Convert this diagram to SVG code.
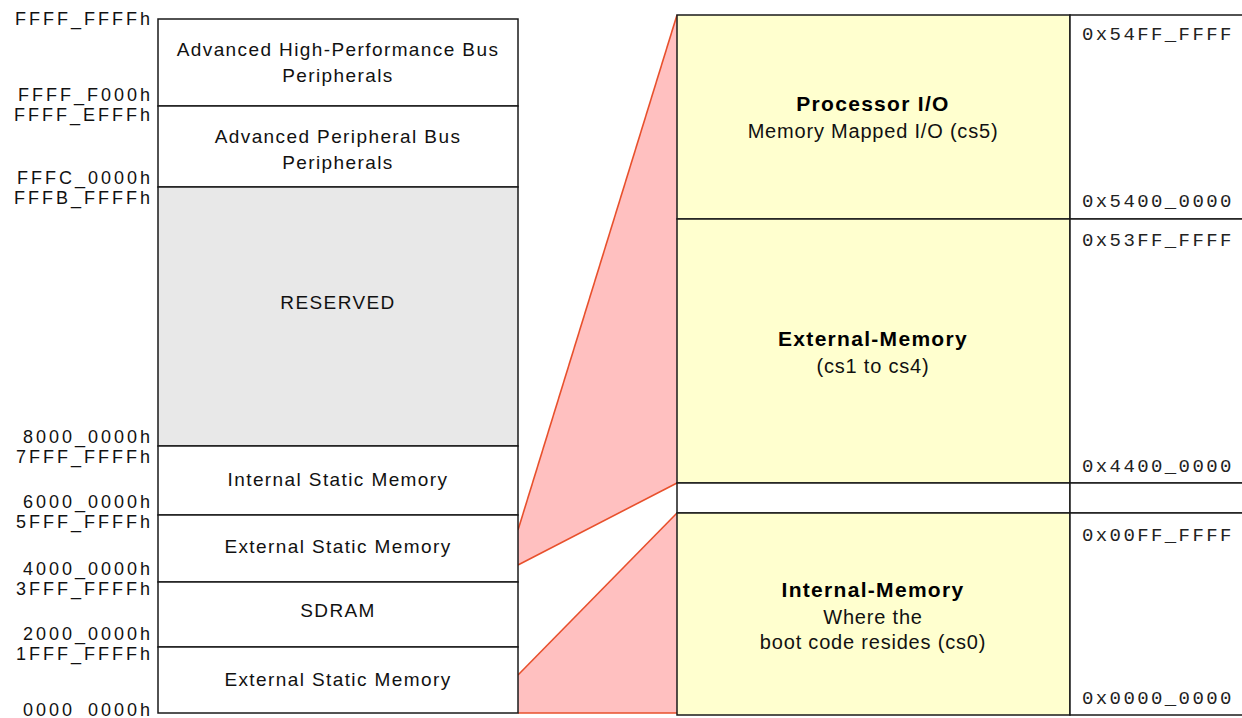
<svg xmlns="http://www.w3.org/2000/svg" width="1242" height="718" viewBox="0 0 1242 718">
<style>
.bx{stroke:#1a1a1a;stroke-width:1.5;fill:#ffffff}
.res{fill:#e8e8e8}
.yl{fill:#ffffcf}
.adr{font-family:"Liberation Sans",Arial,sans-serif;font-size:18px;letter-spacing:3px;fill:#111;text-anchor:end}
.lbl{font-family:"Liberation Sans",Arial,sans-serif;font-size:19px;letter-spacing:1.4px;fill:#111;text-anchor:middle}
.tt{font-family:"Liberation Sans",Arial,sans-serif;font-size:21px;font-weight:bold;letter-spacing:1.3px;fill:#000;text-anchor:middle}
.st{font-family:"Liberation Sans",Arial,sans-serif;font-size:20px;letter-spacing:0.8px;fill:#111;text-anchor:middle}
.hx{font-family:"Liberation Mono","Courier New",monospace;font-size:19px;letter-spacing:2.4px;fill:#222}
.fan{fill:#ffc0c0;stroke:none}
.edge{stroke:#e8502c;stroke-width:1.6;fill:none}
</style>
<rect x="0" y="0" width="1242" height="718" fill="#ffffff"/>

<g id="connectors">
  <polygon class="fan" points="518,530 677,15 677,483 518,565"/>
  <polygon class="fan" points="518,675 677,513 677,713 518,713"/>
  <line class="edge" x1="518" y1="530" x2="677" y2="15"/>
  <line class="edge" x1="518" y1="565" x2="677" y2="483"/>
  <line class="edge" x1="518" y1="675" x2="677" y2="513"/>
  <line class="edge" x1="518" y1="713" x2="677" y2="713"/>
</g>

<g id="left-addresses">
  <text class="adr" x="153" y="25">FFFF_FFFFh</text>
  <text class="adr" x="153" y="101">FFFF_F000h</text>
  <text class="adr" x="153" y="121">FFFF_EFFFh</text>
  <text class="adr" x="153" y="184">FFFC_0000h</text>
  <text class="adr" x="153" y="204">FFFB_FFFFh</text>
  <text class="adr" x="153" y="443">8000_0000h</text>
  <text class="adr" x="153" y="463">7FFF_FFFFh</text>
  <text class="adr" x="153" y="508">6000_0000h</text>
  <text class="adr" x="153" y="528">5FFF_FFFFh</text>
  <text class="adr" x="153" y="575">4000_0000h</text>
  <text class="adr" x="153" y="595">3FFF_FFFFh</text>
  <text class="adr" x="153" y="640">2000_0000h</text>
  <text class="adr" x="153" y="660">1FFF_FFFFh</text>
  <text class="adr" x="153" y="716">0000_0000h</text>
</g>

<g id="ahb">
  <rect class="bx" x="158" y="19" width="360" height="87"/>
  <text class="lbl" x="338" y="56">Advanced High-Performance Bus</text>
  <text class="lbl" x="338" y="82">Peripherals</text>
</g>
<g id="apb">
  <rect class="bx" x="158" y="106" width="360" height="81"/>
  <text class="lbl" x="338" y="143">Advanced Peripheral Bus</text>
  <text class="lbl" x="338" y="169">Peripherals</text>
</g>
<g id="reserved">
  <rect class="bx res" x="158" y="187" width="360" height="259"/>
  <text class="lbl" x="338" y="309">RESERVED</text>
</g>
<g id="internal-static">
  <rect class="bx" x="158" y="446" width="360" height="69"/>
  <text class="lbl" x="338" y="486">Internal Static Memory</text>
</g>
<g id="external-static-hi">
  <rect class="bx" x="158" y="515" width="360" height="67"/>
  <text class="lbl" x="338" y="553">External Static Memory</text>
</g>
<g id="sdram">
  <rect class="bx" x="158" y="582" width="360" height="65"/>
  <text class="lbl" x="338" y="617">SDRAM</text>
</g>
<g id="external-static-lo">
  <rect class="bx" x="158" y="647" width="360" height="66"/>
  <text class="lbl" x="338" y="686">External Static Memory</text>
</g>

<g id="processor-io">
  <rect class="bx yl" x="677" y="15" width="393" height="204"/>
  <rect class="bx" x="1070" y="15" width="180" height="204"/>
  <text class="tt" x="873" y="111">Processor I/O</text>
  <text class="st" x="873" y="138">Memory Mapped I/O (cs5)</text>
  <text class="hx" x="1082" y="40">0x54FF_FFFF</text>
  <text class="hx" x="1082" y="207">0x5400_0000</text>
</g>
<g id="external-memory">
  <rect class="bx yl" x="677" y="219" width="393" height="264"/>
  <rect class="bx" x="1070" y="219" width="180" height="264"/>
  <text class="tt" x="873" y="346">External-Memory</text>
  <text class="st" x="873" y="373">(cs1 to cs4)</text>
  <text class="hx" x="1082" y="246">0x53FF_FFFF</text>
  <text class="hx" x="1082" y="472">0x4400_0000</text>
</g>
<g id="gap">
  <rect class="bx" x="677" y="483" width="393" height="30"/>
  <rect class="bx" x="1070" y="483" width="180" height="30"/>
</g>
<g id="internal-memory">
  <rect class="bx yl" x="677" y="513" width="393" height="202"/>
  <rect class="bx" x="1070" y="513" width="180" height="202"/>
  <text class="tt" x="873" y="597">Internal-Memory</text>
  <text class="st" x="873" y="624">Where the</text>
  <text class="st" x="873" y="649">boot code resides (cs0)</text>
  <text class="hx" x="1082" y="541">0x00FF_FFFF</text>
  <text class="hx" x="1082" y="704">0x0000_0000</text>
</g>
</svg>
